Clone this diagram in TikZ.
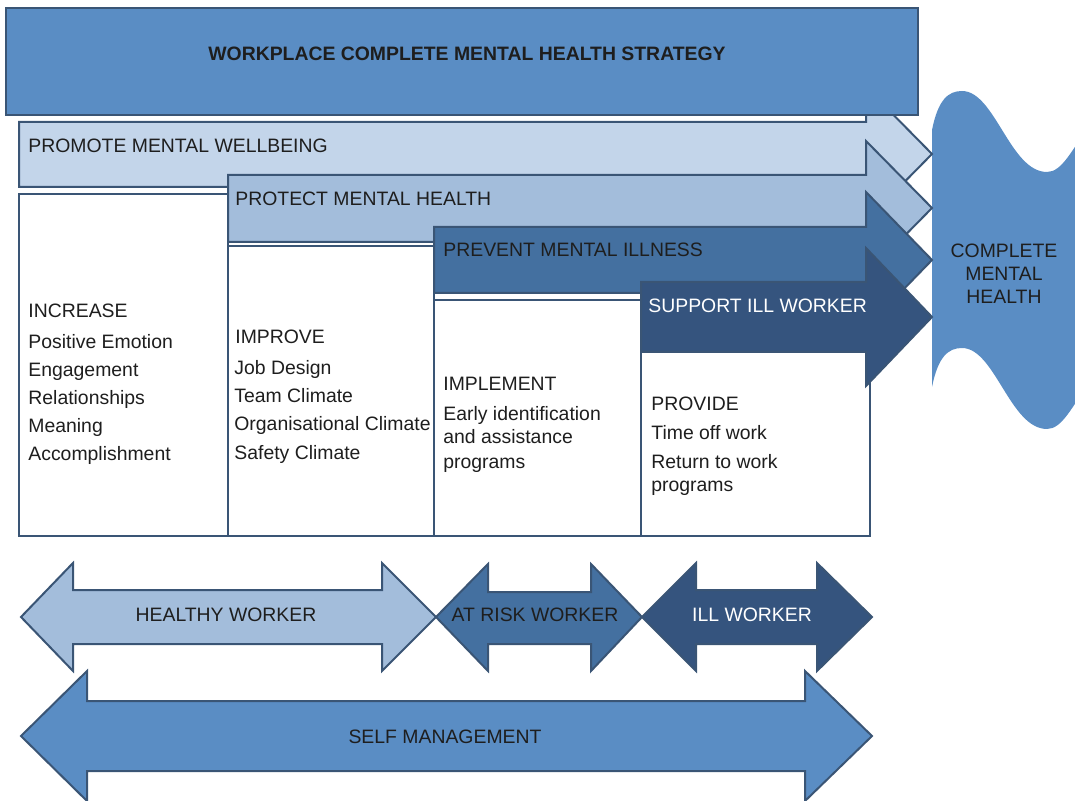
\documentclass[tikz,border=0pt]{standalone}
\usepackage{fontspec}
\setmainfont{Liberation Sans}
\definecolor{stratblue}{HTML}{5A8DC4}
\definecolor{promoteblue}{HTML}{C3D5EA}
\definecolor{protectblue}{HTML}{A3BDDB}
\definecolor{preventblue}{HTML}{4470A0}
\definecolor{supportblue}{HTML}{35547E}
\definecolor{edgeblue}{HTML}{3A5575}
\definecolor{labelgrey}{HTML}{1E1E1E}
\tikzset{
  band/.style={draw=edgeblue,line width=1pt,line join=miter},
  panel/.style={draw=edgeblue,line width=1pt,fill=white},
  txt/.style={anchor=base west,inner sep=0pt,text=labelgrey,font=\fontsize{9.7}{11.6}\selectfont},
  ctxt/.style={txt,anchor=base},
  wtxt/.style={txt,text=white},
}
\begin{document}
\begin{tikzpicture}[x=0.5pt,y=-0.5pt]
\useasboundingbox (0,0) rectangle (1075,801);

% complete mental health
\fill[stratblue] (932,130) .. controls (938,100) and (948,91) .. (962,91)
  .. controls (995,91) and (1010,172) .. (1047,172)
  .. controls (1062,172) and (1072,150) .. (1090,124) -- (1090,381)
  .. controls (1072,407) and (1062,429) .. (1047,429)
  .. controls (1010,429) and (995,348) .. (962,348)
  .. controls (948,348) and (938,357) .. (932,387) -- cycle;
\node[ctxt,align=center] (cmh) at (1004,304) {COMPLETE\\MENTAL\\HEALTH};

% white panels under the bands
\draw[panel] (19,194) rectangle (228,536);
\draw[panel] (228,246) rectangle (434,536);
\draw[panel] (434,300) rectangle (641,536);
\draw[panel] (641,352) rectangle (870,536);

% the four bands
\draw[band,fill=promoteblue] (19,122) -- (866,122) -- (866,87) -- (932,154) -- (866,221) -- (866,187) -- (19,187) -- cycle;
\draw[band,fill=protectblue] (228,175) -- (866,175) -- (866,141) -- (932,208) -- (866,275) -- (866,242) -- (228,242) -- cycle;
\draw[band,fill=preventblue] (434,227) -- (866,227) -- (866,192) -- (932,260) -- (866,328) -- (866,293) -- (434,293) -- cycle;
\draw[band,fill=supportblue] (641,282) -- (866,282) -- (866,248) -- (932,317) -- (866,386) -- (866,352) -- (641,352) -- cycle;

% strategy header
\draw[band,fill=stratblue] (6,8) rectangle (918,115);
\node[ctxt,font=\fontsize{9.7}{11.6}\selectfont\bfseries] (title) at (467,61) {WORKPLACE COMPLETE MENTAL HEALTH STRATEGY};

\node[txt] (promote) at (28,153) {PROMOTE MENTAL WELLBEING};
\node[txt] (protect) at (235,206) {PROTECT MENTAL HEALTH};
\node[txt] (prevent) at (443,257) {PREVENT MENTAL ILLNESS};
\node[wtxt] (support) at (648,313) {SUPPORT ILL WORKER};

% panel texts
\node[txt] (inc) at (28,318) {INCREASE};
\node[txt] (inc1) at (28,349) {Positive Emotion};
\node[txt] (inc2) at (28,377) {Engagement};
\node[txt] (inc3) at (28,405) {Relationships};
\node[txt] (inc4) at (28,433) {Meaning};
\node[txt] (inc5) at (28,461) {Accomplishment};

\node[txt] (imp) at (235,344) {IMPROVE};
\node[txt] (imp1) at (234,375) {Job Design};
\node[txt] (imp2) at (234,403) {Team Climate};
\node[txt] (imp3) at (234,431) {Organisational Climate};
\node[txt] (imp4) at (234,459) {Safety Climate};

\node[txt] (impl) at (443,391) {IMPLEMENT};
\node[txt] (impl1) at (443,421) {Early identification};
\node[txt] (impl2) at (443,444) {and assistance};
\node[txt] (impl3) at (443,468) {programs};

\node[txt] (prov) at (651,411) {PROVIDE};
\node[txt] (prov1) at (651,440) {Time off work};
\node[txt] (prov2) at (651,468) {Return to work};
\node[txt] (prov3) at (651,492) {programs};

% worker states
\draw[band,fill=protectblue] (21,617) -- (73,563) -- (73,590) -- (382,590) -- (382,563) -- (436,617) -- (382,671) -- (382,644) -- (73,644) -- (73,671) -- cycle;
\draw[band,fill=preventblue] (436,617) -- (488,564) -- (488,592) -- (591,592) -- (591,564) -- (642,617) -- (591,671) -- (591,644) -- (488,644) -- (488,671) -- cycle;
\draw[band,fill=supportblue] (642,617) -- (696,563) -- (696,590) -- (817,590) -- (817,563) -- (872,617) -- (817,671) -- (817,644) -- (696,644) -- (696,671) -- cycle;
\node[ctxt] (healthy) at (226,621) {HEALTHY WORKER};
\node[ctxt] (atrisk) at (535,621) {AT RISK WORKER};
\node[ctxt,text=white] (ill) at (752,621) {ILL WORKER};

% self management
\draw[band,fill=stratblue] (21,736) -- (87,671) -- (87,701) -- (805,701) -- (805,671) -- (872,736) -- (805,801) -- (805,771) -- (87,771) -- (87,801) -- cycle;
\node[ctxt] (selfman) at (445,743) {SELF MANAGEMENT};
\end{tikzpicture}
\end{document}
